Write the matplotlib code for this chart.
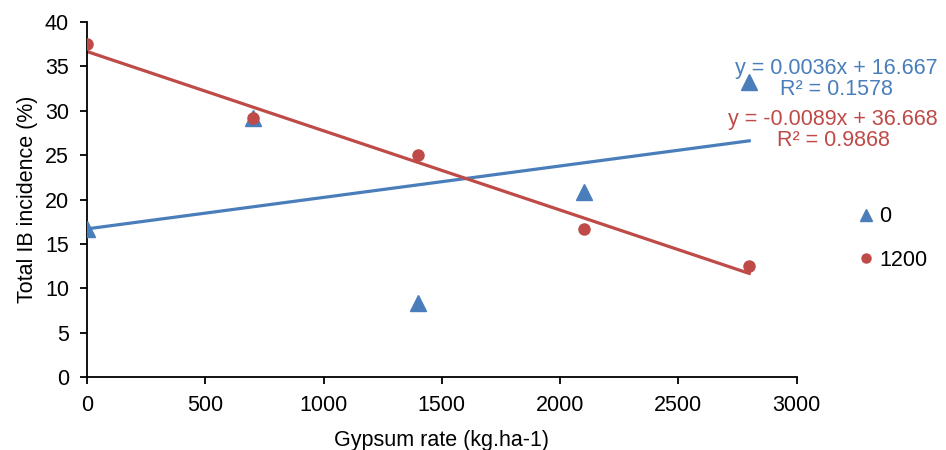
import numpy as np
import matplotlib
matplotlib.use("Agg")
import matplotlib.pyplot as plt
from matplotlib.lines import Line2D

plt.rcParams["font.family"] = ["Liberation Sans", "DejaVu Sans"]

# gypsum rates and IB incidence for the two groups
gypsum = [0, 700, 1400, 2100, 2800]
ib_0 = [16.7, 29.2, 8.3, 20.8, 33.3]
ib_1200 = [37.5, 29.2, 25.0, 16.7, 12.5]
labels = ["0", "1200"]
eq_0 = "y = 0.0036x + 16.667\nR² = 0.1578"
eq_1200 = "y = -0.0089x + 36.668\nR² = 0.9868"

BLUE = "#4A7EBB"
RED = "#BE4B48"
FS = 15.5

fig = plt.figure(figsize=(9.46, 4.5), dpi=100)
ax = fig.add_axes([0.092, 0.162, 0.750, 0.789])

x = np.array(gypsum, dtype=float)
xs = np.array([x.min(), x.max()])

# trendlines
for y, c in [(ib_0, BLUE), (ib_1200, RED)]:
    m, b = np.polyfit(x, np.array(y), 1)
    ax.plot(xs, m * xs + b, color=c, lw=2.3, zorder=2)

ax.plot(gypsum, ib_0, "^", color=BLUE, ms=11, ls="none", zorder=3)
ax.plot(gypsum, ib_1200, "o", color=RED, ms=8, ls="none", zorder=4)

ax.text(3170, 33.6, eq_0, color=BLUE, fontsize=FS, ha="center", va="center",
        multialignment="center", linespacing=1.0, clip_on=False)
ax.text(3155, 27.8, eq_1200, color=RED, fontsize=FS, ha="center", va="center",
        multialignment="center", linespacing=1.0, clip_on=False)

ax.set_xlim(0, 3000)
ax.set_ylim(0, 40)
ax.set_xticks(range(0, 3001, 500))
ax.set_yticks(range(0, 41, 5))
ax.tick_params(axis="x", labelsize=FS, direction="out", length=5, width=1.3, pad=8)
ax.tick_params(axis="y", labelsize=FS, direction="out", length=5, width=1.3, pad=8)
for s in ["top", "right"]:
    ax.spines[s].set_visible(False)
for s in ["left", "bottom"]:
    ax.spines[s].set_linewidth(1.3)

ax.set_xlabel("Gypsum rate (kg.ha-1)", fontsize=FS, labelpad=10)
ax.set_ylabel("Total IB incidence (%)", fontsize=FS, labelpad=5)

handles = [Line2D([], [], marker="^", color=BLUE, ls="none", ms=9),
           Line2D([], [], marker="o", color=RED, ls="none", ms=6.5)]
fig.legend(handles, labels, loc="center left", bbox_to_anchor=(0.895, 0.47),
           frameon=False, fontsize=FS, handlelength=0.8, handletextpad=0.2,
           labelspacing=1.05, borderpad=0)

fig.savefig("out.png", dpi=100)
